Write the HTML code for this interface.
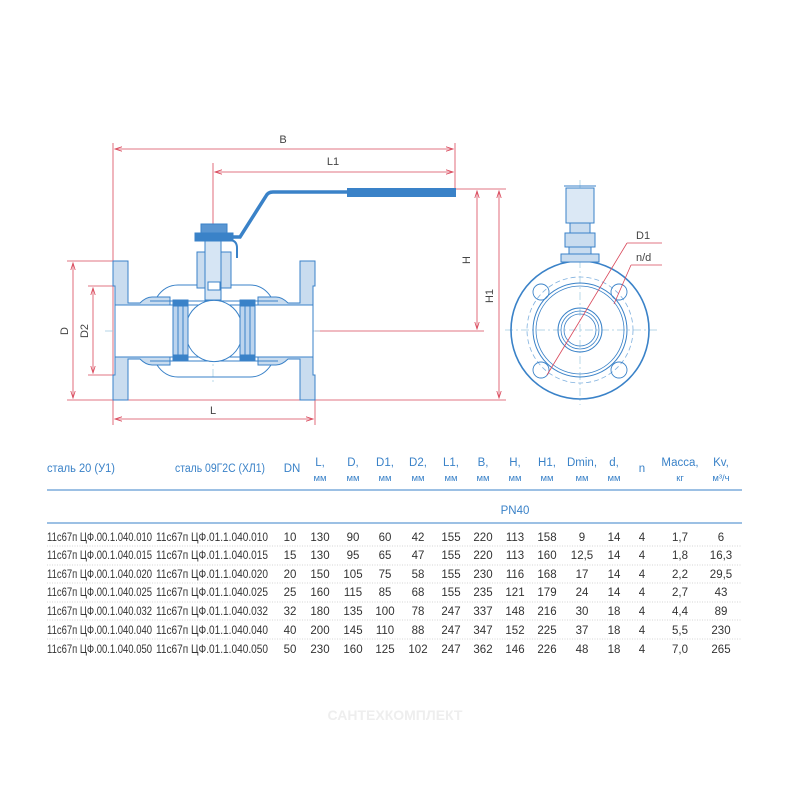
<!DOCTYPE html>
<html><head><meta charset="utf-8"><style>
html,body{margin:0;padding:0;background:#fff;}
svg{display:block;font-family:"Liberation Sans","Noto Sans CJK SC",sans-serif;}
</style></head><body>
<svg width="800" height="800" viewBox="0 0 800 800" xmlns="http://www.w3.org/2000/svg">
<defs>
<marker id="a" markerWidth="8" markerHeight="6" refX="7" refY="3" orient="auto-start-reverse" markerUnits="userSpaceOnUse"><path d="M0,0.8 L7,3 L0,5.2" fill="none" stroke="#d9475a" stroke-width="0.8"/></marker>
</defs>
<g stroke="#d9475a" stroke-width="0.8" fill="none">
<line x1="113" y1="143" x2="113" y2="425"/>
<line x1="455" y1="143" x2="455" y2="197"/>
<line x1="213" y1="163" x2="213" y2="225"/>
<line x1="115" y1="149" x2="453" y2="149" marker-start="url(#a)" marker-end="url(#a)"/>
<line x1="215" y1="172" x2="453" y2="172" marker-start="url(#a)" marker-end="url(#a)"/>
<line x1="455" y1="189" x2="506" y2="189"/>
<line x1="477" y1="191" x2="477" y2="329" marker-start="url(#a)" marker-end="url(#a)"/>
<line x1="499" y1="191" x2="499" y2="398" marker-start="url(#a)" marker-end="url(#a)"/>
<line x1="315" y1="331" x2="484" y2="331"/>
<line x1="67" y1="400" x2="506" y2="400"/>
<line x1="67" y1="261" x2="115" y2="261"/>
<line x1="88" y1="286" x2="115" y2="286"/>
<line x1="88" y1="375" x2="115" y2="375"/>
<line x1="73" y1="263" x2="73" y2="398" marker-start="url(#a)" marker-end="url(#a)"/>
<line x1="93" y1="288" x2="93" y2="373" marker-start="url(#a)" marker-end="url(#a)"/>
<line x1="315" y1="400" x2="315" y2="425"/>
<line x1="115" y1="419" x2="313" y2="419" marker-start="url(#a)" marker-end="url(#a)"/>
<line x1="232" y1="311" x2="232" y2="349" marker-start="url(#a)" marker-end="url(#a)"/>
</g>
<g fill="#444" font-size="11">
<text x="283" y="143" text-anchor="middle">B</text>
<text x="333" y="165" text-anchor="middle">L1</text>
<text x="213" y="414" text-anchor="middle">L</text>
<text transform="translate(68,331) rotate(-90)" text-anchor="middle">D</text>
<text transform="translate(88,331) rotate(-90)" text-anchor="middle">D2</text>
<text transform="translate(470,260) rotate(-90)" text-anchor="middle">H</text>
<text transform="translate(493,296) rotate(-90)" text-anchor="middle">H1</text>
<text transform="translate(228,330) rotate(-90)" text-anchor="middle" font-size="10">Dmin</text>
</g>
<g stroke="#9cc9e0" stroke-width="0.7" stroke-dasharray="8,3,2,3">
<line x1="105" y1="331" x2="320" y2="331"/>
<line x1="213" y1="225" x2="213" y2="385"/>
<line x1="505" y1="330" x2="660" y2="330"/>
<line x1="580" y1="180" x2="580" y2="405"/>
</g>
<path d="M205,237 L240,237 L266,196 Q268,192 273,192 L347,192" stroke="#3a82c8" stroke-width="3.5" fill="none"/>
<rect x="347" y="188" width="109" height="9" fill="#3a82c8"/>
<g stroke="#3a82c8" stroke-width="1" fill="#c9dcef">
<path d="M113,261 L128,261 L128,303 L140,303 Q146,297 152,297 L170,297 L170,365 L152,365 Q146,365 140,359 L128,359 L128,400 L113,400 L113,375 L115,375 L115,286 L113,286 Z"/>
<path d="M315,261 L300,261 L300,303 L288,303 Q282,297 276,297 L258,297 L258,365 L276,365 Q282,365 288,359 L300,359 L300,400 L315,400 L315,375 L313,375 L313,286 L315,286 Z"/>
<rect x="115" y="305" width="198" height="52" fill="#fff"/>
<path d="M157,297 Q165,285 178,285 L250,285 Q263,285 271,297" fill="none"/>
<path d="M157,365 Q165,377 178,377 L250,377 Q263,377 271,365" fill="none"/>
<path d="M150,301 L278,301 M150,361 L278,361" fill="none"/>
<rect x="173" y="300" width="15" height="61" fill="#bcd4ee"/>
<rect x="240" y="300" width="15" height="61" fill="#bcd4ee"/>
<rect x="173" y="300" width="15" height="6" fill="#3a82c8"/>
<rect x="173" y="355" width="15" height="6" fill="#3a82c8"/>
<rect x="240" y="300" width="15" height="6" fill="#3a82c8"/>
<rect x="240" y="355" width="15" height="6" fill="#3a82c8"/>
<line x1="178" y1="306" x2="178" y2="355"/><line x1="183" y1="306" x2="183" y2="355"/>
<line x1="245" y1="306" x2="245" y2="355"/><line x1="250" y1="306" x2="250" y2="355"/>
<path d="M188,318 A28,28 0 0 1 240,318 M188,344 A28,28 0 0 0 240,344" fill="#fff"/>
<rect x="197" y="252" width="34" height="36"/>
<rect x="205" y="240" width="16" height="60" fill="#d6e5f4"/>
<rect x="195" y="233" width="38" height="8" fill="#3a82c8"/>
<rect x="201" y="224" width="26" height="9" fill="#5a96d2"/>
<path d="M229,240 Q237,240 237,248 L237,258" fill="none" stroke-width="2"/>
<rect x="208" y="282" width="12" height="8" fill="#fff"/>
</g>
<g stroke="#3a82c8" fill="none">
<circle cx="580" cy="330" r="69" stroke-width="1.6"/>
<circle cx="580" cy="330" r="53" stroke="#7fb0de" stroke-dasharray="5,3" stroke-width="0.8"/>
<circle cx="580" cy="330" r="47" stroke-width="1"/>
<circle cx="580" cy="330" r="44" stroke-width="0.8"/>
<circle cx="580" cy="330" r="22" stroke-width="1"/>
<circle cx="580" cy="330" r="19" stroke-width="0.8"/>
<circle cx="580" cy="330" r="16" stroke-width="0.8"/>
<g stroke-width="0.9">
<circle cx="541" cy="292" r="8"/><circle cx="619" cy="292" r="8"/>
<circle cx="541" cy="370" r="8"/><circle cx="619" cy="370" r="8"/>
</g>
<path d="M566,188 L566,223 L594,223 L594,188 Z M564,186 L596,186" stroke-width="1" fill="#dbe8f5"/>
<rect x="570" y="223" width="20" height="10" fill="#c9dcef"/>
<rect x="565" y="233" width="30" height="14" fill="#c9dcef"/>
<rect x="569" y="247" width="22" height="7" fill="#c9dcef"/>
<rect x="561" y="254" width="38" height="8" fill="#c9dcef"/>
</g>
<g stroke="#d9475a" stroke-width="0.8" fill="none">
<line x1="547" y1="375" x2="627" y2="243"/>
<line x1="627" y1="243" x2="662" y2="243"/>
<line x1="614" y1="304" x2="631" y2="265"/>
<line x1="631" y1="265" x2="662" y2="265"/>
</g>
<g fill="#444" font-size="11"><text x="636" y="239">D1</text><text x="636" y="261">n/d</text></g>
<g fill="#3a82c8" font-size="11.5">
<text x="47" y="472" textLength="68" lengthAdjust="spacingAndGlyphs">сталь 20 (У1)</text>
<text x="175" y="472" textLength="90" lengthAdjust="spacingAndGlyphs">сталь 09Г2С (ХЛ1)</text>
<g text-anchor="middle">
<text x="292" y="472">DN</text>
<text x="320" y="466">L,</text><text x="353" y="466">D,</text><text x="385" y="466">D1,</text><text x="418" y="466">D2,</text><text x="451" y="466">L1,</text><text x="483" y="466">B,</text><text x="515" y="466">H,</text><text x="547" y="466">H1,</text><text x="582" y="466">Dmin,</text><text x="614" y="466">d,</text><text x="642" y="472">n</text><text x="680" y="466">Масса,</text><text x="721" y="466">Kv,</text>
<g font-size="9.5"><text x="320" y="481">мм</text><text x="353" y="481">мм</text><text x="385" y="481">мм</text><text x="418" y="481">мм</text><text x="451" y="481">мм</text><text x="483" y="481">мм</text><text x="515" y="481">мм</text><text x="547" y="481">мм</text><text x="582" y="481">мм</text><text x="614" y="481">мм</text><text x="680" y="481">кг</text><text x="721" y="481">м³/ч</text></g>
<text x="515" y="514">PN40</text>
</g>
</g>
<g stroke="#3a82c8" stroke-width="1"><line x1="47" y1="490" x2="742" y2="490"/><line x1="47" y1="523" x2="742" y2="523"/></g>
<g stroke="#aaa" stroke-width="0.6" stroke-dasharray="1,1.5">
<line x1="47" y1="546" x2="742" y2="546"/><line x1="47" y1="565" x2="742" y2="565"/><line x1="47" y1="583" x2="742" y2="583"/><line x1="47" y1="602" x2="742" y2="602"/><line x1="47" y1="620" x2="742" y2="620"/><line x1="47" y1="639" x2="742" y2="639"/>
</g>
<g fill="#333" font-size="11.5">
<g>
<text x="47" y="541" textLength="105" lengthAdjust="spacingAndGlyphs">11с67п ЦФ.00.1.040.010</text>
<text x="47" y="559" textLength="105" lengthAdjust="spacingAndGlyphs">11с67п ЦФ.00.1.040.015</text>
<text x="47" y="578" textLength="105" lengthAdjust="spacingAndGlyphs">11с67п ЦФ.00.1.040.020</text>
<text x="47" y="596" textLength="105" lengthAdjust="spacingAndGlyphs">11с67п ЦФ.00.1.040.025</text>
<text x="47" y="615" textLength="105" lengthAdjust="spacingAndGlyphs">11с67п ЦФ.00.1.040.032</text>
<text x="47" y="634" textLength="105" lengthAdjust="spacingAndGlyphs">11с67п ЦФ.00.1.040.040</text>
<text x="47" y="653" textLength="105" lengthAdjust="spacingAndGlyphs">11с67п ЦФ.00.1.040.050</text>
<text x="156" y="541" textLength="112" lengthAdjust="spacingAndGlyphs">11с67п ЦФ.01.1.040.010</text>
<text x="156" y="559" textLength="112" lengthAdjust="spacingAndGlyphs">11с67п ЦФ.01.1.040.015</text>
<text x="156" y="578" textLength="112" lengthAdjust="spacingAndGlyphs">11с67п ЦФ.01.1.040.020</text>
<text x="156" y="596" textLength="112" lengthAdjust="spacingAndGlyphs">11с67п ЦФ.01.1.040.025</text>
<text x="156" y="615" textLength="112" lengthAdjust="spacingAndGlyphs">11с67п ЦФ.01.1.040.032</text>
<text x="156" y="634" textLength="112" lengthAdjust="spacingAndGlyphs">11с67п ЦФ.01.1.040.040</text>
<text x="156" y="653" textLength="112" lengthAdjust="spacingAndGlyphs">11с67п ЦФ.01.1.040.050</text>
</g>
<g text-anchor="middle">
<g transform="translate(0,541)"><text x="290">10</text><text x="320">130</text><text x="353">90</text><text x="385">60</text><text x="418">42</text><text x="451">155</text><text x="483">220</text><text x="515">113</text><text x="547">158</text><text x="582">9</text><text x="614">14</text><text x="642">4</text><text x="680">1,7</text><text x="721">6</text></g>
<g transform="translate(0,559)"><text x="290">15</text><text x="320">130</text><text x="353">95</text><text x="385">65</text><text x="418">47</text><text x="451">155</text><text x="483">220</text><text x="515">113</text><text x="547">160</text><text x="582">12,5</text><text x="614">14</text><text x="642">4</text><text x="680">1,8</text><text x="721">16,3</text></g>
<g transform="translate(0,578)"><text x="290">20</text><text x="320">150</text><text x="353">105</text><text x="385">75</text><text x="418">58</text><text x="451">155</text><text x="483">230</text><text x="515">116</text><text x="547">168</text><text x="582">17</text><text x="614">14</text><text x="642">4</text><text x="680">2,2</text><text x="721">29,5</text></g>
<g transform="translate(0,596)"><text x="290">25</text><text x="320">160</text><text x="353">115</text><text x="385">85</text><text x="418">68</text><text x="451">155</text><text x="483">235</text><text x="515">121</text><text x="547">179</text><text x="582">24</text><text x="614">14</text><text x="642">4</text><text x="680">2,7</text><text x="721">43</text></g>
<g transform="translate(0,615)"><text x="290">32</text><text x="320">180</text><text x="353">135</text><text x="385">100</text><text x="418">78</text><text x="451">247</text><text x="483">337</text><text x="515">148</text><text x="547">216</text><text x="582">30</text><text x="614">18</text><text x="642">4</text><text x="680">4,4</text><text x="721">89</text></g>
<g transform="translate(0,634)"><text x="290">40</text><text x="320">200</text><text x="353">145</text><text x="385">110</text><text x="418">88</text><text x="451">247</text><text x="483">347</text><text x="515">152</text><text x="547">225</text><text x="582">37</text><text x="614">18</text><text x="642">4</text><text x="680">5,5</text><text x="721">230</text></g>
<g transform="translate(0,653)"><text x="290">50</text><text x="320">230</text><text x="353">160</text><text x="385">125</text><text x="418">102</text><text x="451">247</text><text x="483">362</text><text x="515">146</text><text x="547">226</text><text x="582">48</text><text x="614">18</text><text x="642">4</text><text x="680">7,0</text><text x="721">265</text></g>
</g>
</g>
<text x="395" y="720" text-anchor="middle" fill="#eeeeee" font-size="14" font-weight="bold">САНТЕХКОМПЛЕКТ</text>
</svg>
</body></html>
